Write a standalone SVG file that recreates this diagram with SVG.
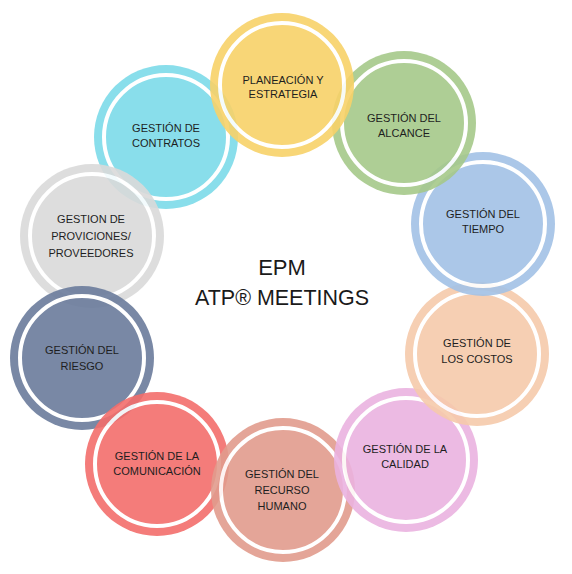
<svg xmlns="http://www.w3.org/2000/svg" width="572" height="574" viewBox="0 0 572 574">
  <defs>
    <style>
      .node { opacity: 0.9; }
      .ring { fill: none; stroke: #ffffff; stroke-width: 4; }
      .lbl { font-family: "Liberation Sans", Arial, sans-serif; font-size: 11px; fill: #1e1e1e; text-anchor: middle; }
      .title { font-family: "Liberation Sans", Arial, sans-serif; font-size: 22px; fill: #1a1a1a; text-anchor: middle; }
    </style>
  </defs>
  <rect width="572" height="574" fill="#ffffff"/>
  <g id="connectors"/>

  <g id="contratos" class="node">
    <circle cx="166" cy="137" r="72" fill="#7DDBE9"/>
    <circle cx="166" cy="137" r="62" class="ring"/>
  </g>
  <g id="proveedores" class="node">
    <circle cx="92" cy="236" r="72" fill="#DADADA"/>
    <circle cx="92" cy="236" r="62" class="ring"/>
  </g>
  <g id="riesgo" class="node">
    <circle cx="82" cy="358" r="72" fill="#6B7C9C"/>
    <circle cx="82" cy="358" r="62" class="ring"/>
  </g>
  <g id="comunicacion" class="node">
    <circle cx="157" cy="464" r="72" fill="#F36E6C"/>
    <circle cx="157" cy="464" r="62" class="ring"/>
  </g>
  <g id="recurso" class="node">
    <circle cx="283" cy="490" r="72" fill="#E29C8D"/>
    <circle cx="283" cy="490" r="62" class="ring"/>
  </g>
  <g id="calidad" class="node">
    <circle cx="406" cy="460" r="72" fill="#EBB3E0"/>
    <circle cx="406" cy="460" r="62" class="ring"/>
  </g>
  <g id="costos" class="node">
    <circle cx="477" cy="354" r="72" fill="#F6CAAB"/>
    <circle cx="477" cy="354" r="62" class="ring"/>
  </g>
  <g id="tiempo" class="node">
    <circle cx="483" cy="224" r="72" fill="#A3C2E6"/>
    <circle cx="483" cy="224" r="62" class="ring"/>
  </g>
  <g id="alcance" class="node">
    <circle cx="404" cy="123" r="72" fill="#A6C98A"/>
    <circle cx="404" cy="123" r="62" class="ring"/>
  </g>
  <g id="planeacion" class="node">
    <circle cx="282" cy="85" r="72" fill="#F8D269"/>
    <circle cx="282" cy="85" r="62" class="ring"/>
  </g>

  <g id="labels">
    <text class="lbl" x="283" y="84">PLANEACIÓN  Y</text>
    <text class="lbl" x="283" y="98">ESTRATEGIA</text>
    <text class="lbl" x="166" y="132">GESTIÓN DE</text>
    <text class="lbl" x="166" y="147">CONTRATOS</text>
    <text class="lbl" x="404" y="122">GESTIÓN DEL</text>
    <text class="lbl" x="404" y="137">ALCANCE</text>
    <text class="lbl" x="483" y="218">GESTIÓN DEL</text>
    <text class="lbl" x="483" y="233">TIEMPO</text>
    <text class="lbl" x="91" y="223">GESTION DE</text>
    <text class="lbl" x="91" y="240">PROVICIONES/</text>
    <text class="lbl" x="91" y="257">PROVEEDORES</text>
    <text class="lbl" x="82" y="354">GESTIÓN DEL</text>
    <text class="lbl" x="82" y="370">RIESGO</text>
    <text class="lbl" x="477" y="347">GESTIÓN DE</text>
    <text class="lbl" x="477" y="363">LOS COSTOS</text>
    <text class="lbl" x="405" y="453">GESTIÓN DE LA</text>
    <text class="lbl" x="405" y="468">CALIDAD</text>
    <text class="lbl" x="157" y="460">GESTIÓN DE LA</text>
    <text class="lbl" x="157" y="475">COMUNICACIÓN</text>
    <text class="lbl" x="282" y="478">GESTIÓN DEL</text>
    <text class="lbl" x="282" y="494">RECURSO</text>
    <text class="lbl" x="282" y="510">HUMANO</text>
  </g>

  <g id="center">
    <text class="title" x="282" y="275">EPM</text>
    <text class="title" x="282" y="305" textLength="174" lengthAdjust="spacingAndGlyphs">ATP® MEETINGS</text>
  </g>
</svg>
